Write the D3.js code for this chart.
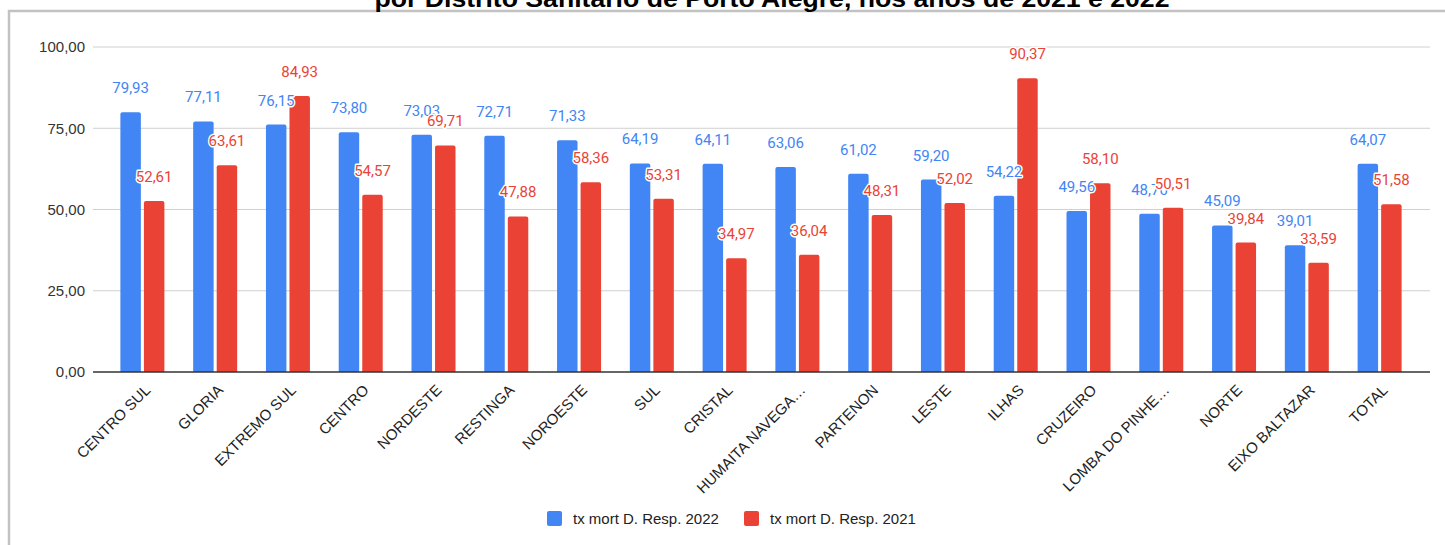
<!DOCTYPE html>
<html>
<head>
<meta charset="utf-8">
<script src="https://cdn.jsdelivr.net/npm/d3@7"></script>
<style>
  body { margin: 0; background: #fff; }
  svg { display: block; }
</style>
</head>
<body>
<svg id="viz"></svg>
<script>

var width = 1445;
var height = 545;

// data
var distritos = ["CENTRO SUL", "GLORIA", "EXTREMO SUL", "CENTRO", "NORDESTE", "RESTINGA",
  "NOROESTE", "SUL", "CRISTAL", "HUMAITA NAVEGA…", "PARTENON", "LESTE", "ILHAS",
  "CRUZEIRO", "LOMBA DO PINHE…", "NORTE", "EIXO BALTAZAR", "TOTAL"];
var tx2022 = [79.93, 77.11, 76.15, 73.80, 73.03, 72.71, 71.33, 64.19, 64.11, 63.06,
  61.02, 59.20, 54.22, 49.56, 48.70, 45.09, 39.01, 64.07];
var tx2021 = [52.61, 63.61, 84.93, 54.57, 69.71, 47.88, 58.36, 53.31, 34.97, 36.04,
  48.31, 52.02, 90.37, 58.10, 50.51, 39.84, 33.59, 51.58];
var seriesNames = ["tx mort D. Resp. 2022", "tx mort D. Resp. 2021"];
var seriesColors = ["#4285F4", "#EA4335"];
var yTicks = [0, 25, 50, 75, 100];
var titleText = "por Distrito Sanitário de Porto Alegre, nos anos de 2021 e 2022";

var seriesValues = [tx2022, tx2021];

var svg = d3.select("#viz")
  .attr("width", width)
  .attr("height", height);

// frame of the chart box
svg.append("path")
  .attr("d", "M9,545 V11 H1445")
  .attr("fill", "none")
  .attr("stroke", "#c2c2c2")
  .attr("stroke-width", 2.5);

// title (cut at the top)
svg.append("text")
  .attr("x", 772)
  .attr("y", 7)
  .attr("text-anchor", "middle")
  .attr("textLength", 795)
  .attr("lengthAdjust", "spacingAndGlyphs")
  .style("font-family", "'Liberation Sans', Arial, sans-serif")
  .style("font-weight", "bold")
  .style("font-size", "23px")
  .attr("fill", "#000")
  .text(titleText);

// scales
var x = d3.scaleBand()
  .domain(distritos)
  .range([106, 1416]);

var xSub = d3.scaleBand()
  .domain([0, 1])
  .range([-22, 22])
  .paddingInner(0.13);

var y = d3.scaleLinear()
  .domain([0, 100])
  .range([372, 47]);

var fmt = function(v) {
  return d3.format(".2f")(v).replace(".", ",");
};

// grid
svg.append("g")
  .selectAll("line")
  .data(yTicks.filter(function(d) { return d !== 0; }))
  .enter().append("line")
  .attr("x1", 93)
  .attr("x2", 1430)
  .attr("y1", function(d) { return y(d); })
  .attr("y2", function(d) { return y(d); })
  .attr("stroke", "#d0d0d0")
  .attr("stroke-width", 1);

// y axis labels
var yAxis = d3.axisLeft(y)
  .tickValues(yTicks)
  .tickSize(0)
  .tickPadding(0)
  .tickFormat(fmt);

svg.append("g")
  .attr("transform", "translate(85,0)")
  .call(yAxis)
  .call(function(g) { g.select(".domain").remove(); })
  .selectAll("text")
  .style("font-family", "'Liberation Sans', Arial, sans-serif")
  .style("font-size", "15px")
  .attr("fill", "#333");

// bars
var groups = svg.append("g")
  .selectAll("g")
  .data(distritos)
  .enter().append("g")
  .attr("transform", function(d) {
    return "translate(" + (x(d) + x.bandwidth() / 2) + ",0)";
  });

seriesValues.forEach(function(vals, s) {
  groups.append("path")
    .attr("d", function(d, i) {
      var x0 = xSub(s), w = xSub.bandwidth();
      var top = y(vals[i]), bot = y(0), r = 2;
      return "M" + x0 + "," + bot +
        "V" + (top + r) +
        "Q" + x0 + "," + top + " " + (x0 + r) + "," + top +
        "H" + (x0 + w - r) +
        "Q" + (x0 + w) + "," + top + " " + (x0 + w) + "," + (top + r) +
        "V" + bot + "Z";
    })
    .attr("fill", seriesColors[s]);
});

// baseline
svg.append("line")
  .attr("x1", 93)
  .attr("x2", 1430)
  .attr("y1", y(0))
  .attr("y2", y(0))
  .attr("stroke", "#333")
  .attr("stroke-width", 1.5);

// data labels
seriesValues.forEach(function(vals, s) {
  groups.append("text")
    .attr("x", xSub(s) + xSub.bandwidth() / 2)
    .attr("y", function(d, i) { return y(vals[i]) - 19; })
    .attr("text-anchor", "middle")
    .style("font-family", "Roboto, sans-serif")
    .style("font-size", "15px")
    .style("paint-order", "stroke")
    .attr("stroke", "#fff")
    .attr("stroke-width", 3)
    .attr("stroke-linejoin", "round")
    .attr("fill", seriesColors[s])
    .text(function(d, i) { return fmt(vals[i]); });
});

// x labels
svg.append("g")
  .selectAll("text")
  .data(distritos)
  .enter().append("text")
  .attr("transform", function(d) {
    return "translate(" + (x(d) + x.bandwidth() / 2 + 9) + ",391) rotate(-45)";
  })
  .attr("text-anchor", "end")
  .style("font-family", "'Liberation Sans', Arial, sans-serif")
  .style("font-size", "15px")
  .attr("fill", "#222")
  .text(function(d) { return d; });

// legend
var legend = svg.append("g")
  .selectAll("g")
  .data(seriesNames)
  .enter().append("g")
  .attr("transform", function(d, i) {
    return "translate(" + (547 + i * 197) + ",511)";
  });

legend.append("rect")
  .attr("width", 15)
  .attr("height", 15)
  .attr("rx", 2)
  .attr("fill", function(d, i) { return seriesColors[i]; });

legend.append("text")
  .attr("x", 26)
  .attr("y", 12.5)
  .style("font-family", "'Liberation Sans', Arial, sans-serif")
  .style("font-size", "15px")
  .attr("fill", "#222")
  .text(function(d) { return d; });

</script>
</body>
</html>
